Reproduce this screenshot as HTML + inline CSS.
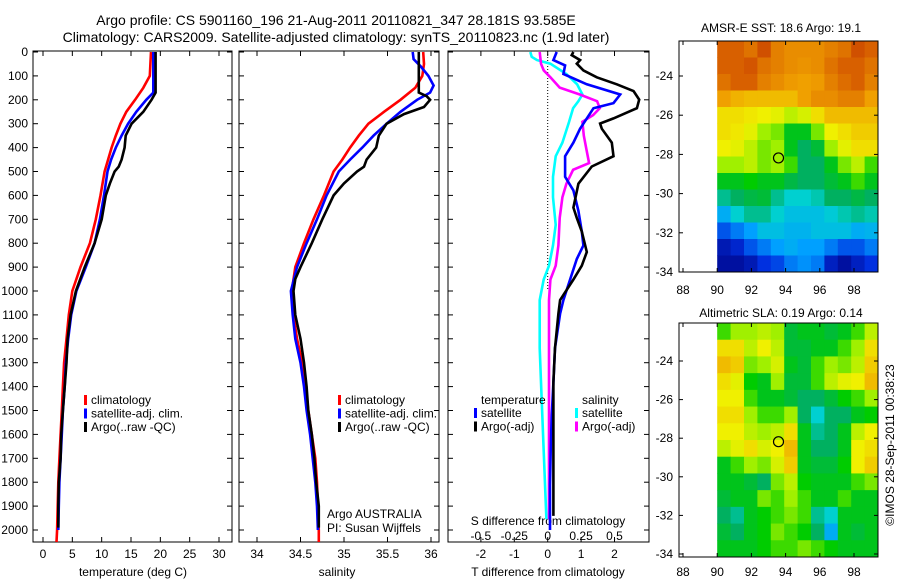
<!DOCTYPE html>
<html><head><meta charset="utf-8"><style>
html,body{margin:0;padding:0;background:#fff;}
svg{display:block;font-family:"Liberation Sans",sans-serif;}
</style></head><body>
<svg id="chart" width="900" height="580" viewBox="0 0 900 580">
<text x="336" y="25" text-anchor="middle" font-size="14">Argo profile: CS 5901160_196 21-Aug-2011 20110821_347 28.181S 93.585E</text>
<text x="336" y="42" text-anchor="middle" font-size="14">Climatology: CARS2009. Satellite-adjusted climatology: synTS_20110823.nc (1.9d later)</text>
</svg>
<script>
// ---- depth axis ----
const depthTicks=[0,100,200,300,400,500,600,700,800,900,1000,1100,1200,1300,1400,1500,1600,1700,1800,1900,2000];
// ---- temperature panel ----
const tempTicks=[0,5,10,15,20,25,30];
const tClimD=[0,50,100,150,200,250,300,350,400,450,500,600,700,800,900,1000,1100,1200,1300,1400,1500,1600,1700,1800,1900,2000,2050];
const tClimV=[18.4,18.3,18.2,17.1,15.7,14.2,13.2,12.4,11.7,11.1,10.5,9.8,9.0,8.0,6.4,5.0,4.4,4.0,3.6,3.4,3.2,3.0,2.8,2.6,2.5,2.4,2.3];
const tSatD=[0,100,170,200,250,300,350,400,450,500,600,700,800,900,1000,1100,1200,1300,1400,1500,1600,1700,1800,1900,2000];
const tSatV=[18.8,18.8,18.8,17.6,15.9,14.5,13.4,12.4,11.6,11.0,10.4,9.7,8.8,7.3,5.7,4.8,4.3,3.9,3.7,3.4,3.2,3.0,2.8,2.7,2.6];
const tArgoD=[0,170,200,250,300,350,400,450,480,500,550,600,700,800,900,1000,1100,1200,1300,1400,1500,1600,1700,1800,1900,1990];
const tArgoV=[19.2,19.2,18.5,17.1,15.1,14.1,13.9,13.4,12.9,12.2,11.4,10.7,10.0,8.8,7.1,5.6,4.7,4.2,4.0,3.7,3.4,3.1,3.0,2.7,2.6,2.6];
// ---- salinity panel ----
const salTicks=[34,34.5,35,35.5,36];
const sClimD=[0,50,100,150,200,250,300,350,400,450,500,600,700,800,900,1000,1100,1200,1300,1400,1500,1600,1700,1800,1900,2000,2050];
const sClimV=[35.91,35.92,35.90,35.82,35.65,35.46,35.28,35.17,35.07,34.98,34.88,34.77,34.65,34.54,34.44,34.40,34.42,34.46,34.52,34.56,34.59,34.63,34.67,34.69,34.70,34.71,34.71];
const sSatD=[0,30,60,100,140,170,200,250,300,350,400,450,500,600,700,800,900,1000,1100,1200,1300,1400,1500,1600,1700,1800,1900,2000];
const sSatV=[35.79,35.80,35.88,35.97,36.03,35.99,35.84,35.65,35.49,35.34,35.21,35.07,34.94,34.80,34.69,34.57,34.46,34.39,34.41,34.44,34.50,34.54,34.57,34.61,34.64,34.67,34.69,34.70];
const sArgoD=[0,170,185,200,230,260,300,350,400,450,480,500,550,600,700,800,900,950,1000,1100,1200,1300,1400,1500,1600,1700,1800,1900,1990];
const sArgoV=[35.86,35.86,35.95,35.99,35.92,35.69,35.49,35.40,35.37,35.26,35.23,35.15,35.00,34.88,34.75,34.63,34.50,34.44,34.42,34.44,34.50,34.54,34.57,34.59,34.63,34.66,34.68,34.71,34.71];
// ---- difference panel ----
const dTTicks=[-2,-1,0,1,2];
const dSTicks=[-0.5,-0.25,0,0.25,0.5];
const dTSatD=[0,34,56,92,135,178,214,235,321,379,436,522,579,665,751,809,866,952,1038,1095,1239,1382,1525,1669,1812,2000];
const dTSatV=[0.27,0.17,0.52,0.47,1.17,2.17,1.97,1.37,0.97,0.77,0.52,0.52,0.77,0.92,1.02,1.07,0.87,0.67,0.47,0.37,0.22,0.17,0.12,0.09,0.07,0.07];
const dTArgoD=[0,13,34,49,77,106,135,163,199,235,278,299,321,379,436,479,551,651,694,751,837,894,952,1038,1095,1239,1382,1669,1812,1941];
const dTArgoV=[0.77,0.72,0.97,0.87,1.07,1.47,2.07,2.57,2.74,2.67,1.97,1.57,1.62,1.92,1.97,1.32,0.92,0.77,0.87,1.02,1.17,1.02,0.77,0.37,0.32,0.22,0.17,0.17,0.17,0.17];
const dSSatD=[0,20,34,49,92,135,178,206,235,292,379,436,522,608,723,809,894,952,1038,1239,1382,1669,1955];
const dSSatV=[-0.13,-0.12,-0.08,0.02,0.14,0.22,0.26,0.23,0.19,0.16,0.11,0.06,0.04,0.04,0.06,0.04,0.01,-0.03,-0.06,-0.06,-0.05,-0.03,-0.01];
const dSArgoD=[0,49,77,106,149,178,206,235,264,292,350,407,465,493,551,608,694,809,894,952,1038,1239,1669,1955];
const dSArgoV=[-0.06,-0.05,-0.03,0.02,0.09,0.24,0.37,0.39,0.34,0.26,0.27,0.29,0.31,0.19,0.14,0.11,0.09,0.08,0.06,0.02,0.01,0.01,0.01,0.01];
// ---- maps ----
const lonTicks=[88,90,92,94,96,98];
const latTicks=[-24,-26,-28,-30,-32,-34];
const argoLon=93.585, argoLat=-28.181;
const sstGrid=[
[0.85,0.85,0.82,0.88,0.8,0.78,0.78,0.78,0.8,0.82,0.88,0.85],
[0.85,0.85,0.87,0.82,0.8,0.78,0.77,0.78,0.82,0.85,0.85,0.82],
[0.82,0.85,0.85,0.8,0.78,0.76,0.75,0.76,0.8,0.83,0.85,0.8],
[0.75,0.73,0.72,0.72,0.72,0.72,0.75,0.78,0.78,0.8,0.8,0.75],
[0.68,0.68,0.67,0.66,0.65,0.62,0.64,0.68,0.72,0.72,0.72,0.72],
[0.68,0.67,0.65,0.6,0.58,0.5,0.5,0.58,0.66,0.68,0.7,0.7],
[0.66,0.65,0.62,0.58,0.6,0.5,0.45,0.48,0.6,0.65,0.68,0.68],
[0.6,0.6,0.62,0.58,0.6,0.55,0.45,0.45,0.5,0.58,0.62,0.55],
[0.5,0.5,0.52,0.5,0.5,0.47,0.45,0.45,0.48,0.5,0.55,0.5],
[0.42,0.45,0.47,0.48,0.42,0.38,0.38,0.4,0.45,0.45,0.47,0.45],
[0.32,0.38,0.42,0.42,0.38,0.35,0.35,0.35,0.37,0.4,0.42,0.4],
[0.2,0.25,0.3,0.35,0.35,0.33,0.33,0.35,0.35,0.35,0.32,0.33],
[0.08,0.12,0.2,0.25,0.3,0.32,0.3,0.3,0.25,0.2,0.2,0.25],
[0.05,0.05,0.08,0.15,0.18,0.25,0.28,0.25,0.1,0.05,0.1,0.15]];
const slaGrid=[
[0.55,0.6,0.6,0.62,0.6,0.48,0.5,0.5,0.48,0.5,0.55,0.62],
[0.68,0.68,0.62,0.66,0.62,0.48,0.48,0.5,0.5,0.55,0.6,0.68],
[0.72,0.7,0.58,0.6,0.64,0.5,0.48,0.55,0.6,0.58,0.62,0.7],
[0.68,0.65,0.52,0.5,0.6,0.48,0.48,0.55,0.62,0.65,0.66,0.72],
[0.66,0.66,0.55,0.5,0.5,0.48,0.45,0.45,0.48,0.52,0.55,0.6],
[0.68,0.68,0.6,0.55,0.55,0.6,0.45,0.38,0.45,0.45,0.5,0.52],
[0.66,0.66,0.62,0.6,0.62,0.68,0.5,0.42,0.45,0.5,0.62,0.66],
[0.62,0.65,0.68,0.64,0.66,0.72,0.5,0.45,0.45,0.5,0.66,0.68],
[0.5,0.55,0.6,0.58,0.64,0.7,0.5,0.48,0.48,0.52,0.66,0.7],
[0.5,0.5,0.48,0.45,0.58,0.62,0.52,0.5,0.5,0.5,0.55,0.58],
[0.48,0.5,0.5,0.58,0.55,0.6,0.55,0.5,0.5,0.55,0.5,0.5],
[0.45,0.42,0.5,0.52,0.55,0.58,0.55,0.42,0.38,0.5,0.5,0.5],
[0.48,0.45,0.5,0.52,0.58,0.55,0.52,0.45,0.32,0.5,0.48,0.5],
[0.5,0.5,0.5,0.52,0.55,0.55,0.58,0.55,0.52,0.5,0.5,0.5]];

const NS="http://www.w3.org/2000/svg";
const svg=document.getElementById('chart');
function mk(tag,attrs,parent){const e=document.createElementNS(NS,tag);for(const k in attrs)e.setAttribute(k,attrs[k]);(parent||svg).appendChild(e);return e;}
function txt(x,y,s,anchor,size,parent){const t=mk('text',{x:x,y:y,'text-anchor':anchor||'middle','font-size':size||12},parent);t.textContent=s;return t;}

const TOP=51,BOT=542;
const yD=d=>52+d*0.239;
const xT=t=>43+t*5.867;
const xS=s=>257+(s-34)*87;
const xDT=t=>547.7+t*33.4;
const xDS=s=>547.7+s*133.6;
const panels=[[33,232],[239,439],[448,649]];

function series(xs,ds,vs,color,name,parent){
  let d='';for(let i=0;i<ds.length;i++){d+=(i?'L':'M')+xs(vs[i]).toFixed(1)+' '+yD(ds[i]).toFixed(1);}
  const p=mk('path',{d:d,fill:'none',stroke:color,'stroke-width':2.6,'stroke-linejoin':'miter'},parent);
  
  
}

// depth tick labels
const dl=mk('g',{});


depthTicks.forEach(d=>{const t=txt(28,yD(d)+4,String(d),'end',12,dl);});

panels.forEach((p,i)=>{
  const g=mk('g',{});
  
  
  mk('rect',{x:p[0],y:TOP,width:p[1]-p[0],height:BOT-TOP,fill:'none',stroke:'#000','stroke-width':1},g);
  depthTicks.forEach(d=>{
    mk('line',{x1:p[0],x2:p[0]+5,y1:yD(d),y2:yD(d),stroke:'#000'},g);
    mk('line',{x1:p[1]-5,x2:p[1],y1:yD(d),y2:yD(d),stroke:'#000'},g);
  });
});
function xticks(ticks,fx,labelY,fmt){
  const g=mk('g',{});
  
  
  ticks.forEach(v=>{const x=fx(v);
    mk('line',{x1:x,x2:x,y1:BOT,y2:BOT-5,stroke:'#000'},g);
    mk('line',{x1:x,x2:x,y1:TOP,y2:TOP+5,stroke:'#000'},g);
    txt(x,labelY,fmt?fmt(v):String(v),'middle',12,g);});
}
xticks(tempTicks,xT,558);
xticks(salTicks,xS,558);
xticks(dTTicks,xDT,558);
// S ticks labels inside panel 3
const sg=mk('g',{});


dSTicks.forEach(v=>txt(xDS(v),540,String(v).replace('0.','.').replace('-.','-0.').replace(/^\./,'0.'),'middle',12,sg));
txt(548,525,'S difference from climatology','middle',12);

const l1=txt(133,576,'temperature (deg C)','middle',12);

const l2=txt(337,576,'salinity','middle',12);

const l3=txt(548,576,'T difference from climatology','middle',12);


// zero dotted line
mk('line',{x1:xDT(0),x2:xDT(0),y1:TOP,y2:yD(1000),stroke:'#000','stroke-dasharray':'1 2','stroke-width':1});

series(xT,tClimD,tClimV,'#ff0000','temp-climatology-line');
series(xT,tSatD,tSatV,'#0000ff','temp-satellite-line');
series(xT,tArgoD,tArgoV,'#000000','temp-argo-line');
series(xS,sClimD,sClimV,'#ff0000','sal-climatology-line');
series(xS,sSatD,sSatV,'#0000ff','sal-satellite-line');
series(xS,sArgoD,sArgoV,'#000000','sal-argo-line');
series(xDS,dSSatD,dSSatV,'#00ffff','sdiff-satellite-line');
series(xDS,dSArgoD,dSArgoV,'#ff00ff','sdiff-argo-line');
series(xDT,dTSatD,dTSatV,'#0000ff','tdiff-satellite-line');
series(xDT,dTArgoD,dTArgoV,'#000000','tdiff-argo-line');

function legend(x,items,name,y0){
  const g=mk('g',{});
  
  
  items.forEach((it,i)=>{const y=y0+i*13.5;
    if(it[1])mk('rect',{x:x,y:y-5,width:3,height:10,fill:it[1]},g);
    txt(x+(it[1]?7:0),y+4,it[0],'start',12,g);});
}
legend(84,[['climatology','#ff0000'],['satellite-adj. clim.','#0000ff'],['Argo(..raw -QC)','#000']],'temp-legend',400);
legend(338,[['climatology','#ff0000'],['satellite-adj. clim.','#0000ff'],['Argo(..raw -QC)','#000']],'sal-legend',400);
legend(474,[['satellite','#0000ff'],['Argo(-adj)','#000']],'tdiff-legend',413);
txt(481,404,'temperature','start',12);
legend(575,[['satellite','#00ffff'],['Argo(-adj)','#ff00ff']],'sdiff-legend',413);
txt(582,404,'salinity','start',12);
txt(327,518,'Argo AUSTRALIA','start',12);
txt(327,532,'PI: Susan Wijffels','start',12);

// colormap
const stops=[[0,[0,0,128]],[0.15,[0,48,224]],[0.3,[0,160,255]],[0.38,[0,208,208]],[0.45,[0,176,96]],[0.52,[0,204,0]],[0.6,[160,240,0]],[0.66,[240,240,0]],[0.75,[240,160,0]],[0.85,[216,96,0]],[1,[176,16,0]]];
function cmap(v){for(let i=1;i<stops.length;i++){if(v<=stops[i][0]){const a=stops[i-1],b=stops[i],f=(v-a[0])/(b[0]-a[0]);return 'rgb('+a[1].map((c,k)=>Math.round(c+(b[1][k]-c)*f)).join(',')+')';}}return 'rgb(176,16,0)';}

function map(grid,top,bot,yLat,title,titleY,name,showLabelsY){
  const g=mk('g',{});
  
  
  const xL=l=>683+(l-88)*17.1;
  const left=xL(90),right=878;
  const rows=grid.length,cols=grid[0].length;
  const cw=(right-left)/cols,ch=(bot-top)/rows;
  grid.forEach((row,r)=>row.forEach((v,c)=>{
    const cell=mk('rect',{x:(left+c*cw).toFixed(2),y:(top+r*ch).toFixed(2),width:(cw+0.4).toFixed(2),height:(ch+0.4).toFixed(2),fill:cmap(v)},g);
    
    
  }));
  mk('rect',{x:679,y:top,width:199,height:bot-top,fill:'none',stroke:'#000'},g);
  lonTicks.forEach(l=>{const x=xL(l);mk('line',{x1:x,x2:x,y1:bot,y2:bot-4,stroke:'#000'},g);mk('line',{x1:x,x2:x,y1:top,y2:top+4,stroke:'#000'},g);txt(x,showLabelsY,String(l),'middle',12,g);});
  latTicks.forEach(l=>{const y=yLat(l);mk('line',{x1:679,x2:683,y1:y,y2:y,stroke:'#000'},g);mk('line',{x1:874,x2:878,y1:y,y2:y,stroke:'#000'},g);txt(673,y+4,String(l),'end',12,g);});
  mk('circle',{cx:xL(argoLon),cy:yLat(argoLat),r:5,fill:'none',stroke:'#000','stroke-width':1.2},g);
  txt(781,titleY,title,'middle',12,g);
}
map(sstGrid,41,272,l=>76+(-24-l)*19.6,'AMSR-E SST: 18.6 Argo: 19.1',32,'sst-map',294);
map(slaGrid,323,557,l=>361+(-24-l)*19.3,'Altimetric SLA: 0.19 Argo: 0.14',317,'sla-map',576);
const cp=txt(0,0,'©IMOS 28-Sep-2011 00:38:23','middle',12);
cp.setAttribute('transform','translate(894,445) rotate(-90)');


</script>
</body></html>
